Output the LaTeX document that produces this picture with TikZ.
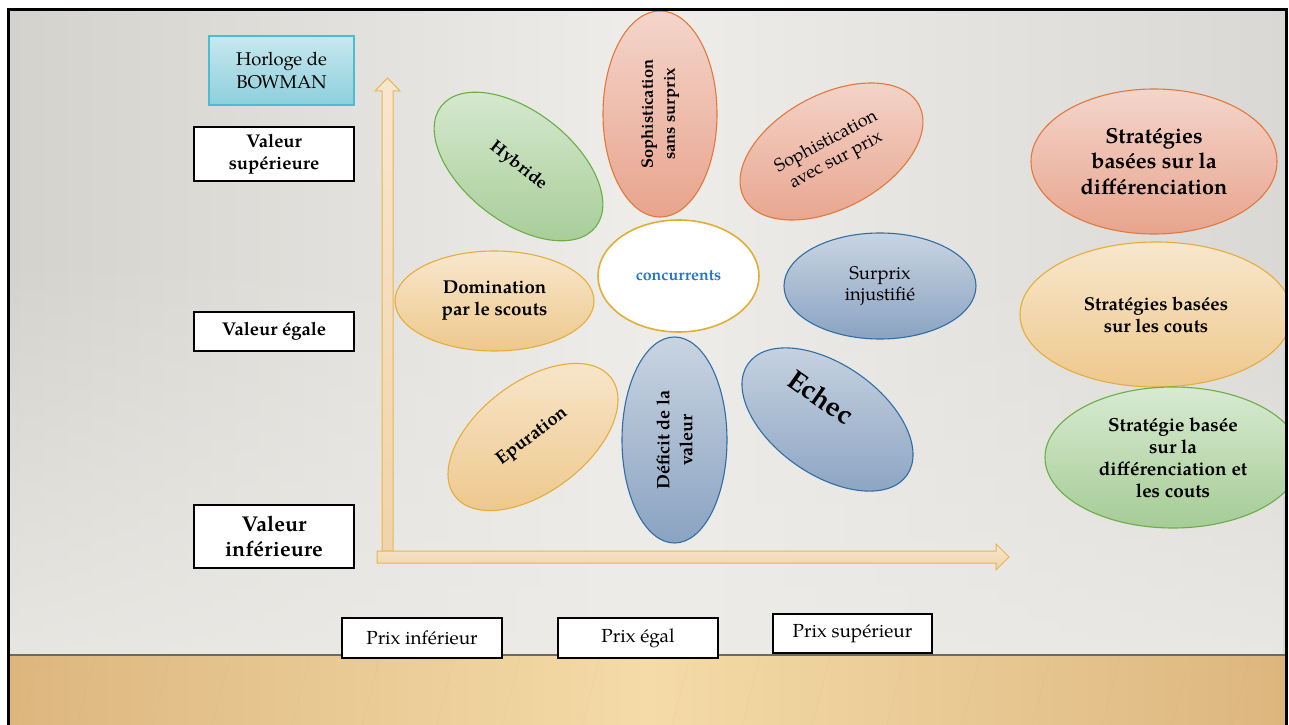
\documentclass[tikz,border=0pt]{standalone}
\usepackage{fontspec}
\setmainfont{texgyrepagella}[Extension=.otf,UprightFont=*-regular,BoldFont=*-bold,ItalicFont=*-italic,BoldItalicFont=*-bolditalic]
\usetikzlibrary{shapes.geometric,fadings}

% palette
\definecolor{wallL}{HTML}{D4D2CD}
\definecolor{wallM}{HTML}{EEEDEA}
\definecolor{wallR}{HTML}{D9D8D5}
\definecolor{wallLow}{HTML}{ECEBE7}
\definecolor{woodE}{HTML}{DDB67E}
\definecolor{woodM}{HTML}{F4DBA8}
\definecolor{woodGrain}{HTML}{C9A06A}
\definecolor{floorLine}{HTML}{6E685F}
\definecolor{salmonT}{HTML}{F4D5CB}
\definecolor{salmonB}{HTML}{E8A48D}
\definecolor{salmonD}{HTML}{E2783A}
\definecolor{tanT}{HTML}{F8E7CD}
\definecolor{tanB}{HTML}{EEC88C}
\definecolor{tanD}{HTML}{E6AD3B}
\definecolor{blueT}{HTML}{C9D4E1}
\definecolor{blueB}{HTML}{8AA3C2}
\definecolor{blueD}{HTML}{2F6EA6}
\definecolor{greenT}{HTML}{D8EAD1}
\definecolor{greenB}{HTML}{A5CC96}
\definecolor{greenD}{HTML}{6AAE45}
\definecolor{tealT}{HTML}{C8E8EF}
\definecolor{tealB}{HTML}{8DCFDC}
\definecolor{tealD}{HTML}{4CBDD0}
\definecolor{goldD}{HTML}{E3AE35}
\definecolor{concBlue}{HTML}{1F78C8}
\definecolor{axisT}{HTML}{F7E6CF}
\definecolor{axisB}{HTML}{F0D4AA}
\definecolor{axisD}{HTML}{E8B64A}

\newcommand{\fs}[2]{\fontsize{#1}{#2}\selectfont}

\begin{document}
\begin{tikzpicture}[x=1bp,y=-1bp,
  labbox/.style={draw=black, line width=1.6bp, fill=white, align=center, inner sep=0pt, text=black},
  petal/.style={ellipse, line width=1.1bp, inner sep=0pt, align=center, text=black},
  salmonpetal/.style={petal, draw=salmonD, top color=salmonT, bottom color=salmonB},
  tanpetal/.style={petal, draw=tanD, top color=tanT, bottom color=tanB},
  bluepetal/.style={petal, draw=blueD, top color=blueT, bottom color=blueB},
  greenpetal/.style={petal, draw=greenD, top color=greenT, bottom color=greenB},
  axisarrow/.style={draw=axisD, line width=1bp, top color=axisT, bottom color=axisB}
]
\useasboundingbox (0,0) rectangle (1289,725);
\fill[white] (0,0) rectangle (1289,725);

% wall: light in the middle, greyer towards the sides, lighter near the floor
\shade[left color=wallL, right color=wallR, middle color=wallM] (8.7,9.5) rectangle (1286.5,655);
\fill[wallLow, path fading=north, fill opacity=0.8] (8.7,250) rectangle (1286.5,655);

% wooden floor with a faint grain
\shade[left color=woodE, right color=woodE, middle color=woodM] (8.7,655) rectangle (1286.5,725);
\begin{scope}[woodGrain, opacity=0.12, line width=0.5bp]
  \foreach \gx in {40,95,170,230,310,380,455,520,600,690,760,830,905,980,1050,1120,1190,1250}
    \draw (\gx,657) -- (\gx-18,725);
\end{scope}
\draw[floorLine, line width=2bp] (8.7,655) -- (1286.5,655);

\begin{scope}
\clip (8.7,9.5) rectangle (1286.5,725);

% axes
\draw[axisarrow] (382,551) -- (382,91) -- (375,91) -- (387.5,78) -- (400,91) -- (393,91) -- (393,551) -- cycle;
\draw[axisarrow] (377,551) -- (996,551) -- (996,544) -- (1009,557) -- (996,570) -- (996,563) -- (377,563) -- cycle;

% left-hand value labels
\node[labbox, draw=tealD, line width=1.1bp, fill=none, top color=tealT, bottom color=tealB,
      minimum width=145bp, minimum height=69bp, font=\fs{18.5}{23}] (hor) at (281.5,70.5) {Horloge de\\BOWMAN};
\node[labbox, minimum width=160bp, minimum height=54bp, font=\fs{18.5}{22}\bfseries] (vsup) at (274,154) {Valeur\\supérieure};
\node[labbox, minimum width=160bp, minimum height=39bp, font=\fs{18.5}{22}\bfseries] (veg) at (274,331.5) {Valeur égale};
\node[labbox, minimum width=160bp, minimum height=63bp, font=\fs{21.5}{25}\bfseries] (vinf) at (274,536.5) {Valeur\\inférieure};

% price labels
\node[labbox, minimum width=160bp, minimum height=40bp, font=\fs{19}{21}] (pinf) at (422,638) {Prix inférieur};
\node[labbox, minimum width=160bp, minimum height=40bp, font=\fs{19}{21}] (peg) at (638,638) {Prix égal};
\node[labbox, minimum width=159bp, minimum height=39bp, font=\fs{19}{21}] (psup) at (852.5,633.5) {Prix supérieur};

% clock petals
\node[greenpetal, minimum width=196bp, minimum height=110bp, rotate=-38, font=\fs{17.5}{22}\bfseries] (hyb) at (518.5,166.5) {Hybride};
\node[salmonpetal, minimum width=206bp, minimum height=114bp, rotate=90, font=\fs{16.5}{22}\bfseries] (ssp) at (660,114) {Sophistication\\sans surprix};
\node[salmonpetal, minimum width=198bp, minimum height=114bp, rotate=28, font=\fs{18.2}{21}] (sap) at (831.5,151.5) {Sophistication\\avec sur prix};
\node[petal, draw=goldD, line width=1.6bp, fill=white, minimum width=161bp, minimum height=112bp, text=concBlue, font=\fs{16}{18}\bfseries] (conc) at (678.5,276) {concurrents};
\node[tanpetal, minimum width=199bp, minimum height=100bp, font=\fs{18.7}{22}\bfseries] (dom) at (494.5,301) {Domination\\par le scouts};
\node[bluepetal, minimum width=192bp, minimum height=106bp, font=\fs{18.5}{21}] (surp) at (880,286) {Surprix\\injustifié};
\node[tanpetal, minimum width=196bp, minimum height=110bp, rotate=37, font=\fs{18.4}{22}\bfseries] (epu) at (533,437) {Epuration};
\node[bluepetal, minimum width=206bp, minimum height=105bp, rotate=90, font=\fs{18}{23}\bfseries] (def) at (674.5,440) {Déficit de la\\valeur};
\node[bluepetal, minimum width=194bp, minimum height=110bp, rotate=-35] (ech) at (827.5,419.5) {};
\node[rotate=-35, font=\fs{28}{30}\bfseries, text=black, inner sep=0pt] (echtxt) at (821,397) {Echec};

% strategy families
\node[salmonpetal, minimum width=246bp, minimum height=145bp, font=\fs{21.8}{25.5}\bfseries] (sd) at (1154,161.5) {Stratégies\\basées sur la\\différenciation};
\node[tanpetal, minimum width=272bp, minimum height=145bp, font=\fs{18.7}{22}\bfseries] (sc) at (1156,314.5) {Stratégies basées\\sur les couts};
\node[greenpetal, minimum width=256bp, minimum height=141bp, font=\fs{19}{22}\bfseries] (sdc) at (1173,457.5) {Stratégie basée\\sur la\\différenciation et\\les couts};
\end{scope}

% slide frame
\draw[black, line width=2.5bp] (8.7,725) -- (8.7,9.5) -- (1286.5,9.5) -- (1286.5,725);
\end{tikzpicture}
\end{document}
